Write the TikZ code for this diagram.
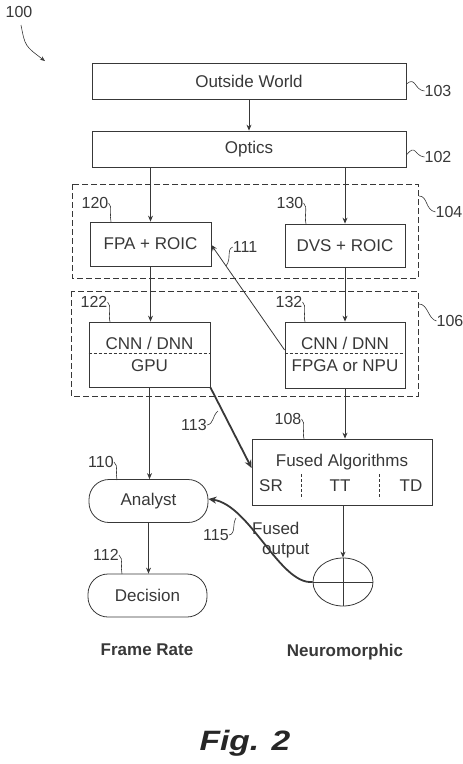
\documentclass[tikz,border=0pt]{standalone}
\usepackage{fontspec}
\setmainfont{Liberation Sans}
\usetikzlibrary{arrows.meta,shapes.geometric}
\definecolor{ink}{gray}{0.22}
\tikzset{
  box/.style={draw=ink, line width=0.8pt, rectangle, inner sep=0pt, font=\fontsize{17}{19}\selectfont, text=ink},
  pill/.style={box, rounded corners=20pt},
  dbox/.style={draw=ink, line width=0.8pt, dashed, dash pattern=on 6pt off 3pt},
  arr/.style={draw=ink, line width=0.8pt, -{Stealth[length=6pt,width=5pt]}},
  thickarr/.style={draw=ink, line width=1.8pt, -{Stealth[length=8pt,width=7pt]}},
  lead/.style={draw=ink, line width=0.6pt},
  lbl/.style={text=ink, font=\fontsize{16}{18}\selectfont, inner sep=0pt},
  captxt/.style={text=ink, font=\bfseries\fontsize{17}{19}\selectfont, inner sep=0pt},
  txt/.style={text=ink, font=\fontsize{17}{19}\selectfont, inner sep=0pt}
}
\begin{document}
\begin{tikzpicture}[x=1pt,y=-1pt]
\useasboundingbox (0,0) rectangle (463,764);

% main boxes
\node[box, minimum width=314pt, minimum height=36pt] (OW) at (249,81) {Outside World};
\node[box, minimum width=314pt, minimum height=36pt] (OP) at (249,149) {Optics};
\node[box, minimum width=121pt, minimum height=44pt] (FPA) at (150.5,244) {FPA + ROIC};
\node[box, minimum width=120pt, minimum height=43pt] (DVS) at (345,245.5) {DVS + ROIC};
\node[box, minimum width=121pt, minimum height=65pt] (GPU) at (149.5,354.5) {};
\node[box, minimum width=120pt, minimum height=66pt] (FPG) at (345,355) {};
\node[box, minimum width=180pt, minimum height=66pt] (FUS) at (342,472) {};
\node[pill, minimum width=119pt, minimum height=43pt] (AN) at (148.5,501) {Analyst};
\node[pill, minimum width=119pt, minimum height=43pt] (DE) at (147.5,595.5) {Decision};
\node[draw=ink, line width=0.8pt, ellipse, minimum width=60pt, minimum height=48pt, inner sep=0pt] (EL) at (343,582) {};

% dashed groups
\draw[dbox] (72,184) rectangle (418,278);
\draw[dbox] (71,291) rectangle (418,396);

% texts inside split boxes
\node[txt] (g1) at (149.5,343) {CNN / DNN};
\node[txt] (g2) at (149.5,366) {GPU};
\draw[lead, dashed, dash pattern=on 3pt off 2pt] (GPU.west |- 0,353) -- (GPU.east |- 0,353);
\node[txt] (f1) at (345,343) {CNN / DNN};
\node[txt] (f2) at (345,366) {FPGA or NPU};
\draw[lead, dashed, dash pattern=on 3pt off 2pt] (FPG.west |- 0,353) -- (FPG.east |- 0,353);
\node[txt] (fa) at (342,462) {Fused Algorithms};
\node[txt] (sr) at (271,486) {SR};
\node[txt] (tt) at (340,486) {TT};
\node[txt] (td) at (411,486) {TD};
\draw[lead, dashed, dash pattern=on 3pt off 2pt] (301,474) -- (301,499);
\draw[lead, dashed, dash pattern=on 3pt off 2pt] (379,474) -- (379,499);

% ellipse cross
\draw[lead] (EL.west) -- (EL.east);
\draw[lead] (EL.north) -- (EL.south);

% connectors
\draw[arr] (OW.south) -- (OP.north);
\draw[arr] (FPA.north |- OP.south) -- (FPA.north);
\draw[arr] (DVS.north |- OP.south) -- (DVS.north);
\draw[arr] (FPA.south) -- (GPU.north -| FPA.south);
\draw[arr] (DVS.south) -- (FPG.north -| DVS.south);
\draw[arr] ([yshift=5pt]FPG.west) -- ([yshift=-1pt]FPA.east);
\draw[thickarr] (GPU.south east) -- ([yshift=4pt]FUS.west);
\draw[arr] (GPU.south) -- (AN.north -| GPU.south);
\draw[arr] (FPG.south) -- (FPG.south |- FUS.north);
\draw[arr] (EL.north |- FUS.south) -- (EL.north);
\draw[arr] (AN.south) -- (DE.north -| AN.south);
\draw[thickarr] (EL.west) .. controls (280,585) and (250,505) .. ([yshift=2pt]AN.east);

% reference numerals
\node[lbl] (n100) at (19,12) {100};
\coordinate (c100) at (45,61);
\draw[lead, -{Stealth[length=5pt,width=4pt]}] (21,25) .. controls (25,46) .. (c100);

\node[lbl] (n103) at (438,91) {103};
\draw[lead] ([yshift=-3pt]OW.east) .. controls (416,76) and (414,90) .. (n103.west);
\node[lbl] (n102) at (438,157) {102};
\draw[lead] ([yshift=-6pt]OP.east) .. controls (416,143) and (414,156) .. (n102.west);
\node[lbl] (n104) at (449,212) {104};
\draw[lead] (419,196) .. controls (428,196) and (425,210) .. (n104.west);
\node[lbl] (n106) at (450,321) {106};
\draw[lead] (419,304) .. controls (428,304) and (428,319) .. (n106.west);

\node[lbl] (n120) at (95,203) {120};
\draw[lead] (n120.east) .. controls (113,207) and (109,215) .. (111,222);
\node[lbl] (n130) at (290,203) {130};
\draw[lead] (n130.east) .. controls (308,207) and (304,215) .. (306,224);
\node[lbl] (n111) at (245,247) {111};
\draw[lead] (n111.west) .. controls (226,250) and (232,258) .. (226,266);
\node[lbl] (n122) at (94,302) {122};
\draw[lead] (n122.east) .. controls (112,306) and (108,314) .. (110,322);
\node[lbl] (n132) at (289,302) {132};
\draw[lead] (n132.east) .. controls (307,306) and (303,314) .. (305,322);
\node[lbl] (n113) at (194,425) {113};
\draw[lead] (n113.east) .. controls (214,424) and (212,416) .. (218,411);
\node[lbl] (n108) at (288,419) {108};
\draw[lead] (n108.east) .. controls (306,423) and (302,431) .. (304,439);
\node[lbl] (n110) at (101,462) {110};
\draw[lead] (n110.east) .. controls (119,466) and (115,473) .. (117,480);
\node[lbl] (n112) at (106,555) {112};
\draw[lead] (n112.east) .. controls (124,559) and (120,567) .. (122,574);
\node[lbl] (n115) at (216,535) {115};
\draw[lead] (n115.east) .. controls (236,534) and (232,524) .. (236,518);

\node[txt, anchor=west] (fo1) at (252,528) {Fused};
\node[txt, anchor=west] (fo2) at (262,551) {output};

\node[captxt] (fr) at (147,650) {Frame Rate};
\node[captxt] (nm) at (345,652) {Neuromorphic};
\node[text=black!85, font=\bfseries\itshape\fontsize{28}{30}\selectfont, inner sep=0pt, xscale=1.2, transform shape] (fig) at (245,743) {Fig. 2};
\end{tikzpicture}
\end{document}
